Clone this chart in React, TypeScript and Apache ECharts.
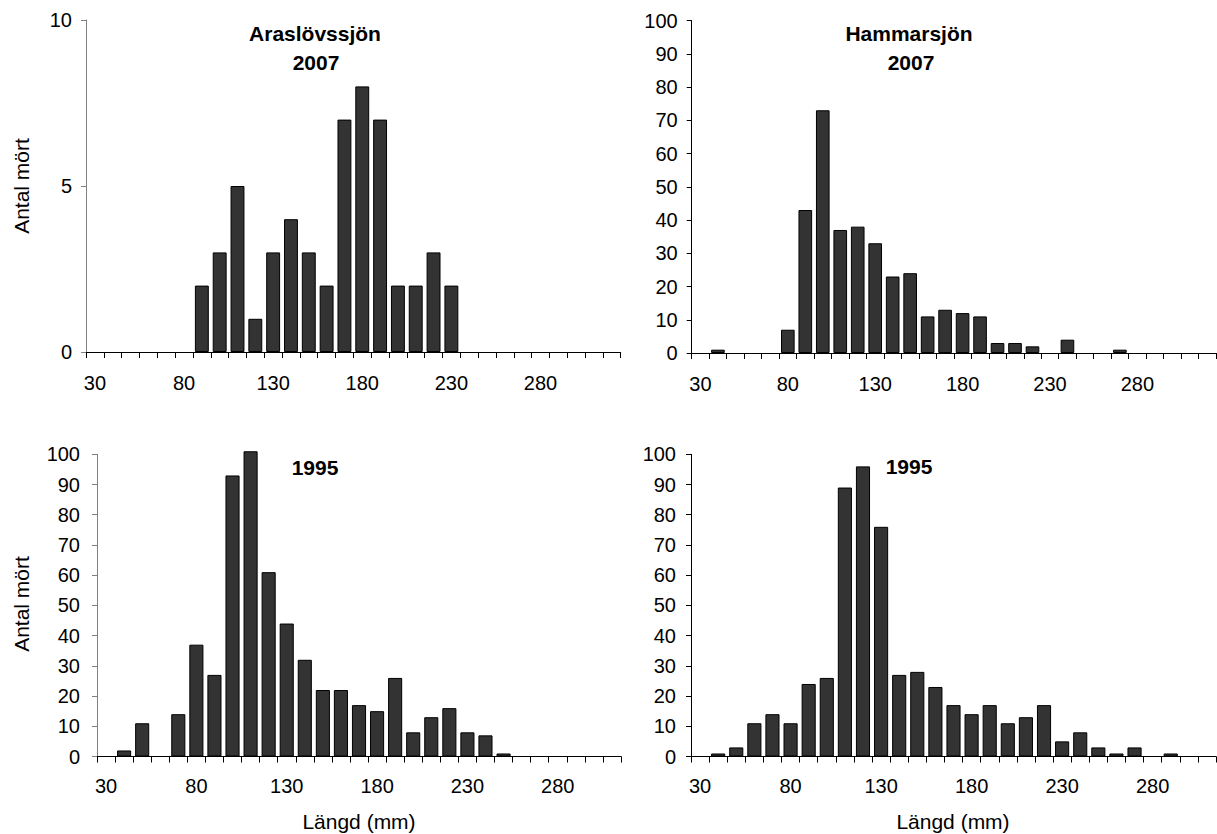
import React, { useEffect, useRef } from "react";
import * as echarts from "echarts";

// Length classes (mm)
const lengthClasses30 = ["30","40","50","60","70","80","90","100","110","120","130","140","150","160","170","180","190","200","210","220","230","240","250","260","270","280","290","300","310","320"];
const lengthClasses29 = ["30","40","50","60","70","80","90","100","110","120","130","140","150","160","170","180","190","200","210","220","230","240","250","260","270","280","290","300","310"];

// Number of roach per length class
const araslovssjon2007 = [0,0,0,0,0,0,2,3,5,1,3,4,3,2,7,8,7,2,2,3,2,0,0,0,0,0,0,0,0,0];
const hammarsjon2007 = [0,1,0,0,0,7,43,73,37,38,33,23,24,11,13,12,11,3,3,2,0,4,0,0,1,0,0,0,0,0];
const araslovssjon1995 = [0,2,11,0,14,37,27,93,101,61,44,32,22,22,17,15,26,8,13,16,8,7,1,0,0,0,0,0,0];
const hammarsjon1995 = [0,1,3,11,14,11,24,26,89,96,76,27,28,23,17,14,17,11,13,17,5,8,3,1,3,0,1,0,0];

const titleTL = ["Araslövssjön", "2007"];
const titleTR = ["Hammarsjön", "2007"];
const titleBottom = "1995";
const yName = "Antal mört";
const xName = "Längd (mm)";

const FONT = "'Liberation Sans', Arial, Helvetica, sans-serif";

function makeX(gridIndex: number, data: string[], margin: number) {
  return {
    type: "category",
    gridIndex,
    data,
    boundaryGap: true,
    axisLine: { show: true, onZero: false, lineStyle: { color: "#000", width: 1 } },
    axisTick: { show: true, interval: 0, length: 6, lineStyle: { color: "#000", width: 1 } },
    axisLabel: { interval: 4, margin, fontSize: 20, color: "#000", fontFamily: FONT },
    splitLine: { show: false },
  };
}

function makeY(gridIndex: number, max: number, interval: number, margin: number, color: string) {
  return {
    type: "value",
    gridIndex,
    min: 0,
    max,
    interval,
    axisLine: { show: true, lineStyle: { color, width: 1 } },
    axisTick: { show: true, length: 5, lineStyle: { color, width: 1 } },
    axisLabel: { margin, fontSize: 20, color: "#000", fontFamily: FONT },
    splitLine: { show: false },
  };
}

function makeBar(idx: number, data: number[]) {
  return {
    type: "bar",
    xAxisIndex: idx,
    yAxisIndex: idx,
    // empty length classes draw no bar
    data: data.map((v) => (v === 0 ? null : v)),
    barCategoryGap: "22%",
    clip: false,
    itemStyle: { color: "#333333", borderColor: "#000", borderWidth: 1 },
  };
}

function txt(x: number, y: number, text: string, size: number, bold: boolean, rotation = 0) {
  return {
    type: "text",
    x,
    y,
    rotation,
    style: {
      text,
      fontSize: size,
      fontWeight: bold ? "bold" : "normal",
      fontFamily: FONT,
      fill: "#000",
      align: "center",
      verticalAlign: "middle",
    },
  };
}

export default function App() {
  const ref = useRef<HTMLDivElement>(null);
  useEffect(() => {
    if (!ref.current) return;
    const chart = echarts.init(ref.current, undefined, { renderer: "svg" });
    chart.setOption({
      animation: false,
      backgroundColor: "#fff",
      grid: [
        { left: 86, top: 20, width: 534.7, height: 332 },
        { left: 691.7, top: 20.5, width: 524.3, height: 332.5 },
        { left: 97, top: 454.3, width: 524, height: 302.2 },
        { left: 691, top: 454.3, width: 525, height: 302.2 },
      ],
      xAxis: [
        makeX(0, lengthClasses30, 21),
        makeX(1, lengthClasses30, 21),
        makeX(2, lengthClasses29, 19),
        makeX(3, lengthClasses29, 19),
      ],
      yAxis: [
        makeY(0, 10, 5, 14, "#808080"),
        makeY(1, 100, 10, 14, "#000"),
        makeY(2, 100, 10, 17, "#808080"),
        makeY(3, 100, 10, 15, "#000"),
      ],
      series: [
        makeBar(0, araslovssjon2007),
        makeBar(1, hammarsjon2007),
        makeBar(2, araslovssjon1995),
        makeBar(3, hammarsjon1995),
      ],
      graphic: [
        txt(315, 33, titleTL[0], 21, true),
        txt(316, 62, titleTL[1], 21, true),
        txt(909, 33, titleTR[0], 21, true),
        txt(911, 62, titleTR[1], 21, true),
        txt(315, 467, titleBottom, 21, true),
        txt(909, 466, titleBottom, 21, true),
        txt(21.5, 186, yName, 21, false, Math.PI / 2),
        txt(21.5, 604, yName, 21, false, Math.PI / 2),
        txt(359, 821, xName, 21, false),
        txt(953, 821, xName, 21, false),
      ],
    });
    return () => chart.dispose();
  }, []);
  return (
    <div
      ref={ref}
      style={{ position: "absolute", left: 0, top: 0, width: 1217, height: 834, background: "#fff" }}
    />
  );
}
